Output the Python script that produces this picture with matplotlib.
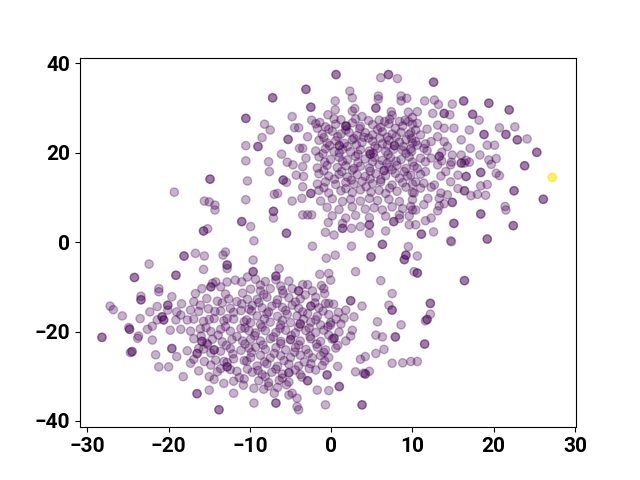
import matplotlib
matplotlib.use("Agg")
import matplotlib.pyplot as plt

# ---------------- data ----------------
# Points repeated twice are stacked observations (they look darker).
upper_sparse = [
    (-10.5, 27.7), (-10.5, 27.7), (-10.5, 21.6), (-10.5, 18.2), (-14.9, 14.1), (-14.9, 14.1),
    (-10.3, 13.7), (-19.3, 11.2), (-15.6, 9.2), (-15.0, 9.0), (-14.3, 8.3), (-14.3, 7.2),
    (-10.5, 9.5), (-11.0, 4.6), (-11.0, 4.6), (-9.9, 3.5), (-15.7, 2.5), (-15.7, 2.5), (-15.2, 3.0),
    (0.6, 37.5), (0.6, 37.5), (7.05, 37.5), (7.05, 37.5), (6.1, 36.8), (8.15, 36.6),
    (-3.1, 34.2), (-3.1, 34.2), (-7.2, 32.3), (-7.2, 32.3), (2.3, 33.8), (2.6, 32.3),
    (5.8, 32.7), (5.8, 32.0), (8.6, 32.7), (9.3, 32.2), (8.6, 31.6), (0.5, 31.6),
    (-2.5, 30.2), (-2.5, 30.2), (0.5, 29.6), (2.9, 29.9), (2.6, 29.3), (5.5, 30.0), (5.5, 30.0),
    (7.4, 29.2), (7.5, 28.4), (9.5, 29.1), (10.0, 27.9), (-4.8, 28.1), (-2.4, 27.3),
    (-0.4, 28.5), (0.35, 27.6), (1.9, 25.9), (3.8, 28.1), (5.9, 27.3), (6.6, 27.0),
    (8.4, 27.0), (9.1, 27.3), (9.5, 27.0), (-8.2, 26.4), (-7.5, 25.1), (-8.5, 23.4),
    (-9.0, 21.4), (-9.0, 21.4), (-4.5, 25.6), (-4.0, 25.6), (-1.7, 25.5), (-1.4, 26.8),
    (-2.9, 23.6), (-5.3, 23.0), (-5.3, 23.0), (-3.9, 21.0), (-3.5, 21.0), (-6.1, 19.7),
    (-7.7, 18.0), (-7.6, 15.8), (-5.4, 17.9), (-4.7, 17.3), (-3.1, 18.8), (-3.5, 16.9),
    (-4.3, 15.0), (-3.4, 14.7), (-5.9, 13.9), (-5.9, 13.9), (-5.5, 13.4), (-3.5, 12.4),
    (-2.5, 10.9), (-2.5, 10.9), (-4.8, 9.2), (-3.6, 9.8), (-7.0, 10.7), (-6.6, 10.9),
    (-7.1, 6.9), (-7.1, 6.9), (-7.1, 5.4), (-3.5, 6.1), (-2.9, 6.1), (-2.4, 6.1),
    (-5.5, 2.0), (-5.5, 2.0), (-9.5, 0.3), (-0.35, 4.4), (-0.7, 2.2), (0.35, 1.6),
    (1.4, 3.1), (1.4, 3.1), (1.4, 4.2), (2.5, 3.1), (3.6, 3.5), (4.7, 3.9), (4.7, 3.9),
    (4.7, 2.0), (6.7, 2.5), (7.7, 4.6), (7.7, 4.6), (8.4, 6.1), (9.6, 3.9), (10.0, 7.2),
]

upper_core = [
    (-1.9, 26.5), (-0.7, 25.8), (0.56, 26.4), (1.8, 26.0), (1.8, 26.0), (2.6, 26.7), (3.6, 25.9),
    (5.1, 26.3), (6.1, 25.7), (7.1, 26.5), (8.8, 26.0), (10.0, 26.4),
    (-1.1, 24.1), (0.14, 24.8), (1.2, 24.2), (2.2, 24.6), (3.2, 23.9), (4.2, 24.5), (5.1, 24.0),
    (6.3, 24.7), (7.5, 24.2), (8.6, 24.6), (9.6, 24.1), (4.6, 23.3), (6.9, 23.5),
    (-1.5, 22.8), (-0.5, 22.2), (0.56, 22.7), (1.6, 22.1), (2.6, 22.9), (3.8, 22.3), (5.1, 22.6),
    (6.3, 22.0), (7.1, 22.8), (8.4, 22.4), (9.2, 22.9), (10.0, 22.2), (7.8, 21.6), (7.8, 21.6),
    (-1.9, 20.4), (-0.7, 20.9), (0.35, 20.3), (1.4, 20.8), (2.4, 20.2), (3.6, 20.7), (4.7, 20.4),
    (5.7, 21.0), (6.7, 20.3), (7.7, 20.8), (8.8, 20.5), (9.8, 20.9), (1.0, 21.6), (1.0, 21.6),
    (-1.5, 19.1), (-0.06, 18.5), (0.97, 19.0), (2.0, 18.4), (3.0, 19.2), (4.2, 18.6), (5.3, 19.0),
    (6.3, 18.3), (7.3, 18.9), (8.6, 18.5), (9.6, 19.1), (4.8, 19.7), (4.8, 19.7),
    (-1.7, 16.6), (-0.5, 17.2), (0.76, 16.7), (1.8, 17.1), (2.8, 16.5), (3.6, 17.0), (4.7, 16.6),
    (5.9, 17.3), (7.1, 16.8), (8.1, 17.2), (9.2, 16.5), (10.2, 17.0), (6.5, 16.0), (6.5, 16.0),
    (-1.5, 15.3), (-0.3, 14.8), (0.97, 15.2), (2.0, 14.6), (3.2, 15.1), (4.2, 14.7), (5.5, 15.3),
    (6.7, 14.9), (7.9, 15.4), (9.4, 14.8),
    (-1.7, 13.0), (-0.7, 13.5), (0.56, 12.9), (1.8, 13.4), (2.8, 13.0), (3.8, 13.6), (5.1, 13.1),
    (6.1, 13.5), (7.5, 12.8), (8.8, 13.3), (10.0, 13.0),
    (-1.5, 11.6), (-0.3, 11.0), (1.2, 11.5), (2.6, 11.1), (3.6, 11.7), (4.9, 11.2), (5.9, 11.6),
    (6.7, 10.9), (8.1, 11.4), (10.0, 11.1),
    (-1.3, 9.2), (0.14, 9.7), (1.4, 9.1), (2.4, 9.6), (3.6, 9.2), (4.7, 9.8), (5.7, 9.3),
    (7.1, 9.6), (8.4, 9.1), (10.0, 9.5),
    (-0.5, 7.8), (0.97, 7.3), (2.6, 7.9), (4.2, 7.4), (5.3, 7.7), (6.3, 7.2), (7.5, 7.9),
    (8.8, 7.5), (9.8, 8.0),
    (0.14, 5.9), (1.8, 5.4), (3.0, 6.0), (4.7, 5.5), (6.7, 5.8), (8.4, 5.3), (9.6, 5.9),
]

upper_fill = [
    (1.2, 27.4), (3.0, 27.6), (4.6, 27.2), (7.2, 27.5),
    (-0.3, 25.3), (1.8, 25.1), (3.5, 25.4), (5.7, 25.2), (7.9, 25.5), (10.4, 25.1),
    (-0.9, 23.4), (0.8, 23.6), (2.8, 23.2), (4.0, 23.5), (6.0, 23.3), (8.0, 23.6), (9.9, 23.2),
    (-0.2, 21.6), (2.0, 21.4), (3.1, 21.8), (5.4, 21.5), (6.9, 21.7), (8.9, 21.4), (10.6, 21.7),
    (-1.0, 19.8), (1.0, 20.0), (3.3, 19.7), (5.2, 19.9), (7.0, 19.6), (9.2, 19.9),
    (-0.8, 17.9), (1.4, 18.1), (3.3, 17.8), (5.1, 18.0), (6.9, 17.7), (8.0, 18.1), (10.0, 17.9),
    (-0.9, 16.0), (1.3, 15.8), (2.6, 16.1), (4.8, 15.9), (7.5, 16.2), (9.0, 15.8),
    (0.4, 14.1), (2.5, 13.9), (4.8, 14.2), (6.1, 14.0), (8.4, 14.3),
    (-0.9, 12.2), (1.8, 12.0), (4.3, 12.4), (7.2, 12.1), (9.2, 12.3),
]

upper_right = [
    (12.6, 35.8), (12.6, 35.8), (11.5, 31.6), (12.7, 31.8), (13.2, 30.8), (14.9, 30.9),
    (16.3, 31.6), (16.3, 31.6), (19.4, 31.1), (19.4, 31.1), (21.9, 29.6), (21.9, 29.6),
    (10.6, 29.2), (12.5, 28.8), (13.9, 28.8), (13.9, 28.8), (14.6, 28.5), (17.4, 28.6), (17.4, 28.6),
    (18.2, 27.3), (10.6, 26.6), (11.8, 25.3), (13.1, 26.2), (13.9, 25.5), (15.1, 25.5), (17.0, 25.1),
    (18.8, 24.1), (18.8, 24.1), (20.7, 25.6), (21.5, 24.1), (21.5, 24.1), (22.6, 25.8),
    (22.9, 22.9), (22.9, 22.9), (24.1, 23.1), (25.3, 20.1), (25.3, 20.1), (23.8, 17.1), (23.8, 17.1),
    (22.5, 11.5), (22.5, 11.5), (26.1, 9.6), (26.1, 9.6), (21.4, 8.0), (21.5, 7.2),
    (18.4, 6.3), (18.4, 6.3), (22.4, 3.7), (22.4, 3.7), (15.1, 4.2), (15.1, 4.2),
    (19.2, 0.7), (19.2, 0.7), (14.7, 0.3), (11.1, 1.8), (11.1, 1.8), (12.6, 2.3), (11.6, 4.8),
    (14.9, 8.9), (14.9, 8.9), (13.1, 7.0), (13.3, 8.1), (16.4, 11.5), (16.4, 11.5), (17.2, 10.4),
    (18.0, 10.7), (18.4, 12.6), (19.2, 12.9), (19.0, 10.5), (18.4, 15.6), (18.4, 15.6),
    (20.3, 15.4), (20.7, 14.9), (18.3, 19.5), (19.4, 18.4), (19.7, 17.4), (20.3, 18.7),
    (19.2, 21.7), (20.1, 21.7), (16.0, 17.7), (16.0, 17.7), (16.4, 17.7), (17.0, 17.9),
    (16.6, 14.7), (16.6, 14.7), (16.0, 22.9), (17.1, 21.0), (16.0, 19.5), (14.9, 19.5),
    (14.3, 21.4), (13.9, 22.5), (14.7, 17.3), (13.1, 23.6), (12.3, 22.5), (11.4, 21.0),
    (11.0, 18.8), (12.3, 18.8), (13.3, 19.2), (13.3, 19.2), (10.6, 16.5), (11.6, 15.8),
    (13.1, 17.3), (14.1, 15.8), (14.7, 13.5), (12.7, 12.8), (11.4, 13.2), (10.4, 13.5),
    (13.5, 11.0), (10.2, 11.0), (11.9, 9.8), (13.3, 9.8), (14.3, 10.6), (12.3, 5.4),
    (10.4, 7.2), (10.4, 3.9),
    (9.8, 24.5), (11.0, 24.0), (10.4, 22.5), (11.6, 22.0), (9.9, 20.3), (11.8, 20.5),
    (13.6, 20.1), (11.6, 18.0), (13.6, 18.2), (14.8, 17.9), (16.6, 18.3), (9.8, 15.0),
    (11.0, 15.2), (13.5, 14.8), (15.6, 15.0), (11.0, 12.1), (12.3, 12.3), (15.6, 12.0),
    (11.4, 8.4), (13.9, 8.6),
]

middle = [
    (14.8, 0.1), (-2.3, -0.9), (2.5, -0.9), (6.3, -0.5), (6.3, -0.5), (9.5, -1.0),
    (9.2, -2.9), (9.2, -2.9), (9.0, -3.9), (9.0, -3.9), (10.2, -6.6), (4.9, -3.3), (4.9, -3.3),
    (0.5, -2.9), (-0.6, -3.6), (3.0, -6.6), (6.1, -8.6), (7.5, -11.5), (-9.6, -4.0),
    (-9.6, -6.6), (-9.6, -6.6), (-6.8, -7.6), (-6.8, -7.6), (-6.4, -5.9), (-1.4, -7.2),
    (-0.3, -7.0), (-0.06, -8.5), (10.6, -3.1), (10.6, -6.9), (10.6, -6.9), (16.4, -8.6), (16.4, -8.6),
    (12.2, -13.7), (12.2, -13.7), (12.2, -16.1), (11.6, -17.6), (11.8, -17.3), (11.8, -17.3),
    (11.5, -22.8), (11.5, -22.8), (10.6, -26.7),
]

lower_sparse = [
    (-28.2, -21.3), (-28.2, -21.3), (-27.2, -14.3), (-26.8, -15.1), (-25.7, -16.5), (-24.9, -19.1),
    (-24.8, -19.5), (-24.8, -19.5), (-23.7, -21.0), (-23.8, -21.5), (-24.5, -24.5), (-24.5, -24.5),
    (-24.7, -24.7), (-24.2, -7.9), (-24.2, -7.9), (-22.4, -4.9), (-23.4, -12.1), (-23.4, -12.9),
    (-23.4, -12.9), (-21.2, -10.4), (-21.2, -11.1), (-23.5, -17.1), (-22.3, -15.6), (-22.6, -19.5),
    (-22.0, -18.8), (-21.4, -14.4), (-21.4, -17.4), (-20.8, -16.7), (-20.8, -16.7), (-20.6, -17.4),
    (-20.6, -17.4), (-20.1, -14.1), (-20.1, -14.1), (-20.1, -15.2), (-19.6, -12.2), (-19.1, -7.4),
    (-19.1, -7.4), (-18.1, -3.1), (-18.1, -3.1), (-16.7, -2.5), (-15.6, -3.1), (-13.3, -2.9),
    (-13.0, -2.2), (-15.7, -6.1), (-12.8, -5.1), (-12.8, -5.1), (-12.8, -5.9), (-18.4, -13.8),
    (-19.0, -15.6), (-18.5, -16.3), (-19.1, -17.4), (-19.8, -19.7), (-18.5, -19.5), (-17.7, -17.4),
    (-17.3, -15.2), (-16.9, -13.3), (-16.1, -14.1), (-16.7, -11.5), (-15.9, -10.4), (-14.8, -10.0),
    (-14.8, -10.0), (-14.6, -9.2), (-14.2, -8.9), (-13.6, -10.0), (-12.8, -8.9), (-11.8, -8.5),
    (-11.0, -8.9), (-10.3, -7.8), (-22.0, -21.9), (-21.6, -25.2), (-21.2, -27.9), (-20.0, -27.9),
    (-19.0, -25.6), (-19.6, -23.8), (-19.6, -23.8), (-18.2, -30.1), (-17.3, -27.1), (-16.5, -24.9),
    (-16.5, -24.9), (-16.3, -23.8), (-15.3, -22.6), (-14.4, -24.1), (-14.4, -24.1), (-14.2, -26.4),
    (-14.8, -27.5), (-15.0, -30.1), (-14.0, -29.0), (-12.8, -27.9), (-12.8, -27.9), (-13.2, -31.6),
    (-12.0, -33.8), (-16.5, -33.9), (-16.5, -33.9), (-15.0, -33.1), (-13.8, -37.5), (-13.8, -37.5),
    (-2.9, -9.5), (-4.0, -10.9), (-4.0, -10.9), (-0.9, -10.4), (-0.7, -13.7), (-0.3, -13.7),
    (2.4, -13.1), (2.4, -13.1), (1.8, -15.2), (3.8, -14.3), (5.7, -17.8), (5.5, -20.8),
    (6.3, -21.2), (6.5, -24.0), (5.5, -24.9), (7.1, -14.1), (7.5, -27.1), (8.8, -27.0),
    (9.8, -26.7), (4.0, -29.3), (4.7, -28.9), (2.6, -19.7), (2.8, -16.7), (1.2, -18.3),
    (0.35, -21.5), (0.35, -21.5), (1.6, -17.0), (-0.06, -18.5), (8.6, -18.5), (7.9, -21.2),
    (7.9, -21.2), (7.5, -15.2), (7.5, -15.2), (3.8, -36.4), (3.8, -36.4), (-0.7, -36.4),
    (-4.0, -37.5), (-4.2, -36.8), (-6.8, -36.0), (-6.8, -36.0), (-9.5, -36.0), (1.0, -32.3),
    (1.0, -32.3), (-0.3, -33.2), (-1.7, -33.1), (-2.9, -31.0), (-2.9, -31.0), (-5.2, -34.2),
    (-4.8, -33.8), (-4.2, -34.9), (-7.0, -33.8), (3.0, -29.0), (4.2, -29.5), (4.2, -29.5),
    (3.6, -26.2), (4.2, -25.6), (0.8, -27.8), (-0.5, -29.7), (-0.5, -29.7), (-1.9, -28.6),
]

lower_core = [
    (-15.3, -12.6), (-14.0, -13.2), (-12.6, -12.7), (-11.6, -13.3), (-10.3, -12.8),
    (-16.3, -15.5), (-15.1, -14.9), (-13.6, -15.4), (-12.4, -14.8), (-11.1, -15.3), (-10.1, -15.0),
    (-16.9, -17.2), (-15.7, -17.7), (-14.4, -17.1), (-13.2, -17.6), (-12.0, -17.2), (-10.7, -17.8),
    (-17.3, -19.9), (-16.1, -19.4), (-14.8, -20.0), (-13.6, -19.5), (-12.4, -19.9), (-11.1, -19.3),
    (-10.1, -19.8), (-16.9, -21.6), (-15.9, -22.2), (-15.9, -22.2), (-14.6, -21.7), (-13.4, -22.3),
    (-12.2, -21.8), (-10.9, -22.1), (-17.7, -24.3), (-15.7, -23.9), (-13.6, -24.4), (-12.4, -23.8),
    (-11.1, -24.2), (-10.1, -23.7), (-16.9, -26.2), (-13.2, -26.7), (-12.0, -26.1), (-10.7, -26.5),
    (-16.3, -28.8), (-13.6, -28.3), (-11.6, -28.9), (-10.3, -28.4), (-14.4, -30.7), (-12.0, -31.1),
    (-10.7, -30.6),
    (-9.3, -8.3), (-8.1, -8.8), (-6.8, -8.4), (-5.2, -8.7),
    (-9.9, -10.5), (-8.7, -10.9), (-7.5, -10.4), (-6.0, -10.8), (-4.8, -10.4), (-2.3, -10.9),
    (-9.1, -12.8), (-7.9, -12.3), (-6.6, -12.9), (-5.2, -12.4), (-3.8, -12.7), (-1.9, -12.3),
    (-9.7, -14.2), (-8.5, -14.7), (-7.3, -14.3), (-6.0, -14.6), (-4.8, -14.1), (-4.0, -14.8),
    (-2.5, -14.3), (-2.5, -14.3), (-1.5, -14.7),
    (-9.1, -16.5), (-7.9, -16.0), (-6.6, -16.6), (-5.4, -16.1), (-4.2, -16.5), (-2.9, -16.0),
    (-1.7, -16.6), (-0.3, -16.2),
    (-9.9, -18.0), (-8.7, -18.4), (-7.5, -17.9), (-6.2, -18.5), (-5.0, -18.0), (-3.8, -18.3),
    (-3.8, -18.3), (-2.5, -17.9), (-1.3, -18.5), (-0.06, -18.0),
    (-9.3, -20.3), (-8.1, -19.8), (-6.8, -20.2), (-5.6, -19.7), (-4.4, -20.3), (-3.1, -19.8),
    (-1.9, -20.2), (-0.9, -19.7), (0.97, -20.1),
    (-9.9, -21.7), (-8.7, -22.1), (-7.5, -21.6), (-6.2, -22.2), (-5.0, -21.8), (-5.0, -21.8),
    (-3.8, -22.1), (-2.5, -21.6), (-1.3, -22.2), (0.14, -21.7), (1.8, -22.1),
    (-9.3, -23.5), (-8.1, -24.0), (-6.8, -23.6), (-5.6, -24.1), (-4.4, -23.6), (-3.1, -24.0),
    (-1.7, -23.5), (-0.7, -24.1), (0.56, -23.7),
    (-9.9, -25.8), (-8.7, -25.3), (-7.5, -25.9), (-6.2, -25.4), (-5.0, -25.8), (-3.8, -25.3),
    (-2.3, -25.9), (-1.3, -25.4), (-0.3, -25.8),
    (-9.1, -27.7), (-7.9, -27.2), (-6.6, -27.8), (-5.2, -27.3), (-4.0, -27.7), (-2.5, -27.2),
    (-1.1, -27.6),
    (-9.7, -29.1), (-8.5, -29.6), (-7.3, -29.1), (-6.0, -29.5), (-5.2, -29.2), (-5.2, -29.2),
    (-3.8, -29.6),
    (-8.9, -31.0), (-7.7, -31.4), (-6.4, -30.9), (-5.2, -31.3), (-9.5, -32.7), (-8.3, -32.9),
    (-6.6, -32.5),
]

lower_fill = [
    (-8.7, -9.6), (-6.2, -9.8), (-3.5, -9.5), (-1.2, -9.7),
    (-13.0, -11.6), (-10.9, -11.4), (-8.3, -11.7), (-5.9, -11.5), (-3.2, -11.8), (-0.8, -11.5),
    (-13.4, -13.6), (-11.0, -13.8), (-8.9, -13.5), (-6.7, -13.7), (-4.4, -13.4), (-2.0, -13.6), (0.3, -13.9),
    (-14.3, -15.5), (-12.0, -15.7), (-9.8, -15.4), (-7.7, -15.6), (-5.6, -15.3), (-3.5, -15.6),
    (-1.0, -15.4), (0.9, -15.7),
    (-15.0, -17.3), (-12.8, -17.1), (-10.4, -17.4), (-8.2, -17.2), (-6.0, -17.5), (-3.4, -17.2),
    (-1.9, -17.4), (0.6, -17.2),
    (-15.4, -19.1), (-13.0, -18.9), (-10.6, -19.2), (-8.5, -19.0), (-6.3, -19.3), (-4.0, -19.0),
    (-2.7, -19.2), (-0.4, -18.9),
    (-16.0, -21.0), (-13.9, -20.8), (-11.6, -21.1), (-9.4, -20.9), (-7.1, -21.2), (-4.9, -20.9),
    (-2.6, -21.1), (-0.3, -20.8), (2.4, -21.0),
    (-15.2, -22.9), (-12.9, -23.1), (-10.6, -22.8), (-8.4, -23.0), (-6.2, -22.7), (-4.0, -23.0),
    (-1.8, -22.8), (0.8, -23.1),
    (-14.8, -24.8), (-12.1, -25.0), (-9.8, -24.7), (-7.0, -24.9), (-4.5, -24.6), (-2.8, -24.9),
    (-0.9, -24.7),
    (-15.6, -26.7), (-12.8, -26.9), (-10.4, -26.6), (-8.2, -26.8), (-5.8, -26.5), (-3.3, -26.8),
    (-0.8, -26.6),
    (-12.4, -28.5), (-9.0, -28.7), (-6.8, -28.4), (-4.4, -28.6), (-2.7, -28.3),
    (-11.3, -30.3), (-8.1, -30.1), (-6.0, -30.4), (-3.6, -30.2),
    (-10.8, -32.0), (-7.7, -32.2), (-5.5, -31.9),
]

# the single point of the second class (three stacked observations)
highlight = [(27.2, 14.5), (27.2, 14.5), (27.2, 14.5)]

groups = [upper_sparse, upper_core, upper_fill, upper_right, middle,
          lower_sparse, lower_core, lower_fill]
pts = [p for g in groups for p in g]
xs = [p[0] for p in pts] + [p[0] for p in highlight]
ys = [p[1] for p in pts] + [p[1] for p in highlight]
labels = [0] * len(pts) + [1] * len(highlight)

# ---------------- drawing ----------------
plt.rcParams['font.family'] = ['Roboto', 'DejaVu Sans']
fig, ax = plt.subplots(figsize=(6.4, 4.8), dpi=100)
ax.scatter(xs, ys, c=labels, cmap='viridis', alpha=0.3, s=36)
ax.set_xlim(-30.9, 30.12)
ax.set_ylim(-41.4, 41.3)
ax.set_xticks([-30, -20, -10, 0, 10, 20, 30])
ax.set_yticks([-40, -20, 0, 20, 40])
for lab in ax.get_xticklabels() + ax.get_yticklabels():
    lab.set_fontsize(15)
    lab.set_fontweight('bold')
fig.savefig('out.png', dpi=100)
